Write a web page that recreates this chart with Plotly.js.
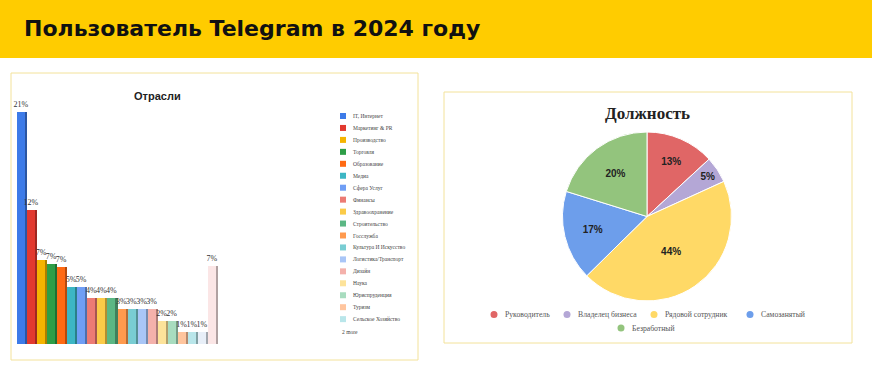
<!DOCTYPE html>
<html><head><meta charset="utf-8">
<script src="https://cdn.plot.ly/plotly-3.0.1.min.js"></script>
<style>html,body{margin:0;padding:0;background:#fff}#chart{width:872px;height:368px}</style>
</head><body><div id="chart"></div>
<script>
// ---- data ----
const pageTitle = "Пользователь Telegram в 2024 году";
const barTitle = "Отрасли";
const industries = ["IT, Интернет","Маркетинг & PR","Производство","Торговля","Образование","Медиа","Сфера Услуг","Финансы","Здравоохранение","Строительство","Госслужба","Культура И Искусство","Логистика/Транспорт","Дизайн","Наука","Юриспруденция","Туризм","Сельское Хозяйство","Прочее","Другое"];
const industryValues = [21, 12.1, 7.6, 7.2, 7.0, 5.2, 5.2, 4.2, 4.2, 4.2, 3.2, 3.2, 3.2, 3.2, 2.1, 2.1, 1.1, 1.1, 1.1, 7.1];
const industryLabels = ["21%","12%","7%","7%","7%","5%","5%","4%","4%","4%","3%","3%","3%","3%","2%","2%","1%","1%","1%","7%"];
const legendShown = 18;
const moreText = "2 more";
const pieTitle = "Должность";
const positions = ["Руководитель","Владелец бизнеса","Рядовой сотрудник","Самозанятый","Безработный"];
const positionShares = [13, 5, 44, 17, 20];

// ---- styles ----
const barColors = ["#3d7be8","#e2392f","#f5b400","#2e9e47","#ff6a13","#3cb6c4","#6f9ef5","#ec7b74","#fbcb48","#5bb784","#ff9a4e","#79cdd3","#a9c6f7","#f4b1ab","#fde39a","#a8dcbf","#ffc59e","#b9e6ea","#e8eff8","#fbe6e6"];
const pieColors = ["#e06666","#b4a7d6","#ffd966","#6d9eeb","#93c47d"];
const W = 872, H = 368;
const px = x => x / W, py = y => 1 - y / H;
function darken(hex, f) {
  const n = parseInt(hex.slice(1), 16);
  const r = Math.round(((n >> 16) & 255) * f), g = Math.round(((n >> 8) & 255) * f), b = Math.round((n & 255) * f);
  return "rgb(" + r + "," + g + "," + b + ")";
}

const traces = [
  {type: "bar", x: industries, y: industryValues, xaxis: "x", yaxis: "y",
   marker: {color: barColors.map(c => darken(c, 0.7))}, width: 0.2, offset: 0.3,
   hoverinfo: "skip", showlegend: false},
  {type: "bar", x: industries, y: industryValues, xaxis: "x", yaxis: "y",
   marker: {color: barColors}, width: 0.8, offset: -0.5,
   text: industryLabels, textposition: "outside", cliponaxis: false, constraintext: "none",
   textfont: {family: "Liberation Serif", size: 8, color: "#333"},
   hoverinfo: "x+y", showlegend: false},
  {type: "pie", labels: positions, values: positionShares, sort: false, direction: "clockwise", rotation: 0,
   marker: {colors: pieColors, line: {color: "#fff", width: 1}},
   domain: {x: [px(562), px(732)], y: [py(301), py(132)]},
   texttemplate: "%{value}%", textposition: "inside", insidetextorientation: "horizontal",
   textfont: {family: "Liberation Sans", size: 10, color: "#222", weight: "bold"},
   showlegend: false}
];

const shapes = [
  {type: "rect", xref: "paper", yref: "paper", x0: 0, x1: 1, y0: py(58), y1: 1, fillcolor: "#ffcc00", line: {width: 0}, layer: "below"},
  {type: "rect", xref: "paper", yref: "paper", x0: px(11), x1: px(418), y0: py(360), y1: py(73), line: {color: "#f3e29a", width: 1}},
  {type: "rect", xref: "paper", yref: "paper", x0: px(444), x1: px(852), y0: py(343), y1: py(92), line: {color: "#f3e29a", width: 1}}
];
const annotations = [
  {xref: "paper", yref: "paper", x: px(22), y: py(28), xanchor: "left", yanchor: "middle", showarrow: false,
   text: "<b>" + pageTitle + "</b>", font: {family: "DejaVu Sans", size: 22, color: "#111"}},
  {xref: "paper", yref: "paper", x: px(157), y: py(96), xanchor: "center", yanchor: "middle", showarrow: false,
   text: "<b>" + barTitle + "</b>", font: {family: "Liberation Sans", size: 11, color: "#222"}},
  {xref: "paper", yref: "paper", x: px(647), y: py(114), xanchor: "center", yanchor: "middle", showarrow: false,
   text: "<b>" + pieTitle + "</b>", font: {family: "Liberation Serif", size: 17, color: "#222"}}
];
// bar legend
for (let i = 0; i < legendShown; i++) {
  const yc = 116 + 11.95 * i;
  shapes.push({type: "rect", xref: "paper", yref: "paper", x0: px(340), x1: px(346), y0: py(yc + 3), y1: py(yc - 3), fillcolor: barColors[i], line: {width: 0}});
  annotations.push({xref: "paper", yref: "paper", x: px(351), y: py(yc), xanchor: "left", yanchor: "middle", showarrow: false,
    text: industries[i], font: {family: "Liberation Serif", size: 5.5, color: "#444"}});
}
annotations.push({xref: "paper", yref: "paper", x: px(340), y: py(332), xanchor: "left", yanchor: "middle", showarrow: false,
  text: moreText, font: {family: "Liberation Serif", size: 5.5, color: "#444"}});
// pie legend
const pieLegendPos = [[494, 314.5], [567, 314.5], [654, 314.5], [750, 314.5], [621, 328]];
positions.forEach((p, i) => {
  const [cx, cy] = pieLegendPos[i];
  shapes.push({type: "circle", xref: "paper", yref: "paper", x0: px(cx - 3.5), x1: px(cx + 3.5), y0: py(cy + 3.5), y1: py(cy - 3.5), fillcolor: pieColors[i], line: {width: 0}});
  annotations.push({xref: "paper", yref: "paper", x: px(cx + 9), y: py(cy), xanchor: "left", yanchor: "middle", showarrow: false,
    text: p, font: {family: "Liberation Serif", size: 7.7, color: "#555"}});
});

const layout = {
  width: W, height: H, margin: {l: 0, r: 0, t: 0, b: 0},
  paper_bgcolor: "#fff", plot_bgcolor: "rgba(0,0,0,0)",
  barmode: "overlay", bargap: 0,
  xaxis: {domain: [px(17), px(218)], range: [-0.5, 19.5], showticklabels: false, showgrid: false, zeroline: false, showline: false, ticks: ""},
  yaxis: {domain: [py(344), py(112)], range: [0, 21], showticklabels: false, showgrid: false, zeroline: false, showline: false, ticks: ""},
  shapes: shapes, annotations: annotations, showlegend: false
};
Plotly.newPlot("chart", traces, layout, {displayModeBar: false, staticPlot: true});
</script></body></html>
